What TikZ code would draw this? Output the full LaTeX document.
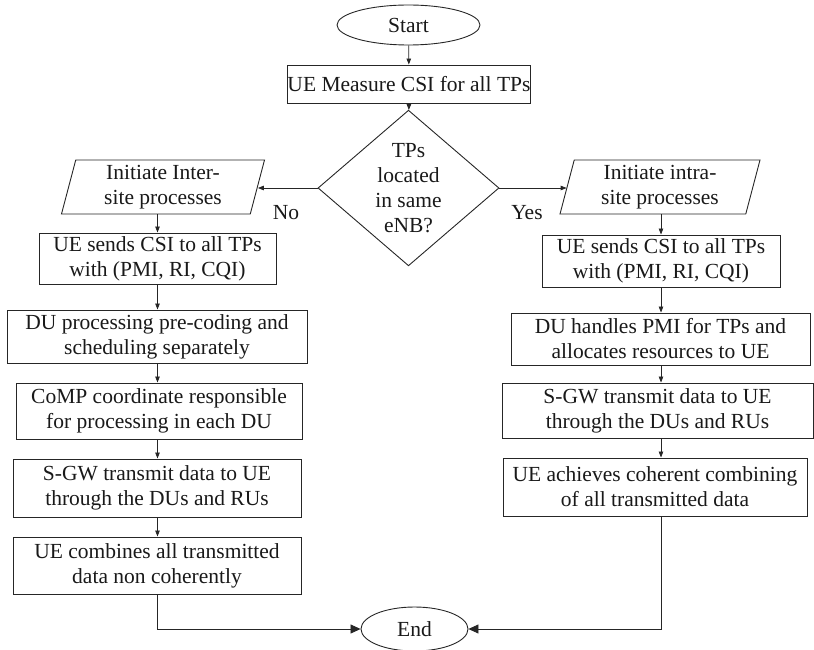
\documentclass[tikz,border=0pt]{standalone}
\usepackage{fontspec}
\setmainfont{Liberation Serif}
\usetikzlibrary{arrows.meta,shapes.geometric}
\begin{document}
\begin{tikzpicture}[x=1pt,y=-1pt,
  every node/.style={font=\fontsize{21.5}{25}\selectfont, inner sep=0pt, align=center, text=black!90},
  proc/.style={draw=black!85, line width=0.9pt, rectangle},
  term/.style={draw=black!85, line width=0.9pt, ellipse},
  decide/.style={draw=black!85, line width=0.9pt, diamond, minimum width=181pt, minimum height=128pt},
  io/.style={draw=black!85, line width=0.9pt, trapezium, trapezium left angle=72, trapezium right angle=108, trapezium stretches body, minimum height=54pt},
  link/.style={draw=black!85, line width=0.8pt},
  arr/.style={link, -{Triangle[length=6pt,width=4.5pt]}},
  arrbig/.style={link, -{Triangle[length=10pt,width=9pt]}},
  lbl/.style={font=\fontsize{21.5}{25}\selectfont}
]
\useasboundingbox (0,0) rectangle (814,650);

\coordinate (cl) at (157.5,0);
\coordinate (cr) at (661,0);

\node[term, minimum width=143pt, minimum height=40pt] (start) at (408.5,25) {Start};
\node[proc, minimum width=222pt, minimum height=38pt] (measure) at (409,84) {UE Measure CSI for all TPs};
\node[decide] (dec) at (408.5,188) {TPs\\located\\in same\\eNB?};

\node[io, minimum width=203pt] (inter) at (163,187) {Initiate Inter-\\site processes};
\node[io, minimum width=200pt] (intra) at (660,187) {Initiate intra-\\site processes};

\node[proc, minimum width=237pt, minimum height=51pt] (L2) at (157.5,258.5) {UE sends CSI to all TPs\\with (PMI, RI, CQI)};
\node[proc, minimum width=300pt, minimum height=53pt] (L3) at (157,336.5) {DU processing pre-coding and\\scheduling separately};
\node[proc, minimum width=286pt, minimum height=56pt] (L4) at (159,411) {CoMP coordinate responsible\\for processing in each DU};
\node[proc, minimum width=288pt, minimum height=58pt] (L5) at (157,488) {S-GW transmit data to UE\\through the DUs and RUs};
\node[proc, minimum width=288pt, minimum height=57pt] (L6) at (157,565.5) {UE combines all transmitted\\data non coherently};

\node[proc, minimum width=238pt, minimum height=52pt] (R2) at (661,261) {UE sends CSI to all TPs\\with (PMI, RI, CQI)};
\node[proc, minimum width=299pt, minimum height=52pt] (R3) at (660.5,339) {DU handles PMI for TPs and\\allocates resources to UE};
\node[proc, minimum width=311pt, minimum height=55pt] (R4) at (657.5,410.5) {S-GW transmit data to UE\\through the DUs and RUs};
\node[proc, minimum width=304pt, minimum height=58pt] (R5) at (655,487) {UE achieves coherent combining\\of all transmitted data};

\node[term, minimum width=107pt, minimum height=44pt] (end) at (414.5,629) {End};

\node[lbl] (no) at (286,213) {No};
\node[lbl] (yes) at (527,213) {Yes};

\draw[arr] (start) -- (measure);
\draw[arr] (measure) -- (dec);
\draw[arr] (dec.west) -- (dec.west -| inter.east);
\draw[arr] (dec.east) -- (dec.east -| intra.west);

\draw[arr] (inter.south -| cl) -- (L2.north -| cl);
\draw[arr] (L2.south -| cl) -- (L3.north -| cl);
\draw[arr] (L3.south -| cl) -- (L4.north -| cl);
\draw[arr] (L4.south -| cl) -- (L5.north -| cl);
\draw[arr] (L5.south -| cl) -- (L6.north -| cl);
\draw[arrbig] (L6.south -| cl) |- (end.west);

\draw[arr] (intra.south -| cr) -- (R2.north -| cr);
\draw[arr] (R2.south -| cr) -- (R3.north -| cr);
\draw[arr] (R3.south -| cr) -- (R4.north -| cr);
\draw[arr] (R4.south -| cr) -- (R5.north -| cr);
\draw[arrbig] (R5.south -| cr) |- (end.east);
\end{tikzpicture}
\end{document}
